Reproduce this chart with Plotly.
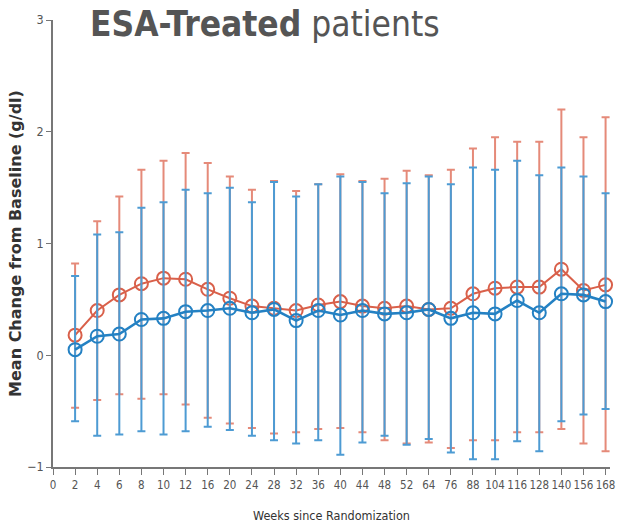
import plotly.graph_objects as go

# Week labels on the categorical x axis
weeks = ["0", "2", "4", "6", "8", "10", "12", "16", "20", "24", "28", "32", "36",
         "40", "44", "48", "52", "64", "76", "88", "104", "116", "128", "140", "156", "168"]
visit_weeks = weeks[1:]

# Red series: mean change and bar ends (g/dl)
red_mean = [0.18, 0.40, 0.54, 0.64, 0.69, 0.68, 0.59, 0.51, 0.44, 0.42, 0.40, 0.45,
            0.48, 0.44, 0.42, 0.44, 0.41, 0.42, 0.55, 0.60, 0.61, 0.61, 0.77, 0.58, 0.63]
red_upper = [0.82, 1.20, 1.42, 1.66, 1.74, 1.81, 1.72, 1.60, 1.48, 1.56, 1.47, 1.53,
             1.62, 1.56, 1.58, 1.65, 1.61, 1.66, 1.85, 1.95, 1.91, 1.91, 2.20, 1.95, 2.13]
red_lower = [-0.47, -0.40, -0.35, -0.39, -0.35, -0.44, -0.56, -0.61, -0.65, -0.70, -0.69, -0.66,
             -0.65, -0.69, -0.76, -0.79, -0.78, -0.83, -0.76, -0.76, -0.69, -0.69, -0.66, -0.79, -0.86]

# Blue series: mean change and bar ends (g/dl)
blue_mean = [0.05, 0.17, 0.19, 0.32, 0.33, 0.39, 0.40, 0.42, 0.38, 0.41, 0.31, 0.40,
             0.36, 0.40, 0.37, 0.38, 0.41, 0.33, 0.38, 0.37, 0.49, 0.38, 0.55, 0.54, 0.48]
blue_upper = [0.71, 1.08, 1.10, 1.32, 1.37, 1.48, 1.45, 1.50, 1.37, 1.55, 1.42, 1.53,
              1.60, 1.55, 1.45, 1.54, 1.60, 1.53, 1.68, 1.66, 1.74, 1.61, 1.68, 1.60, 1.45]
blue_lower = [-0.59, -0.72, -0.71, -0.68, -0.71, -0.68, -0.64, -0.67, -0.72, -0.76, -0.79, -0.76,
              -0.89, -0.78, -0.72, -0.80, -0.75, -0.87, -0.93, -0.93, -0.77, -0.86, -0.59, -0.53, -0.48]

RED = "#d9604a"
RED_BAR = "#e58a79"
BLUE = "#2481c3"
BLUE_BAR = "#4d9bd3"

NARROW = "DejaVu Sans Condensed, Liberation Sans Narrow, Arial Narrow, sans-serif"


def trace(mean, upper, lower, line_c, bar_c, lw):
    return go.Scatter(
        x=visit_weeks, y=mean, mode="lines+markers",
        line=dict(color=line_c, width=lw),
        marker=dict(symbol="circle-open", size=13, color=line_c, line=dict(width=2)),
        error_y=dict(type="data", symmetric=False,
                     array=[u - m for u, m in zip(upper, mean)],
                     arrayminus=[m - l for m, l in zip(mean, lower)],
                     color=bar_c, thickness=2, width=4),
        showlegend=False, cliponaxis=False,
    )


fig = go.Figure()
fig.add_trace(trace(red_mean, red_upper, red_lower, RED, RED_BAR, 2))
fig.add_trace(trace(blue_mean, blue_upper, blue_lower, BLUE, BLUE_BAR, 2.6))

fig.update_layout(
    width=618, height=526,
    margin=dict(l=53, r=3, t=20, b=59),
    paper_bgcolor="white", plot_bgcolor="white",
    xaxis=dict(type="category", categoryorder="array", categoryarray=weeks,
               range=[0, 25.2], showgrid=False, zeroline=False,
               showline=True, linecolor="#777", linewidth=1.5,
               ticks="outside", ticklen=6, tickcolor="#777", tickwidth=1.2,
               tickangle=0, tickfont=dict(family=NARROW, size=11.5, color="#555"),
               title=dict(text="Weeks since Randomization", standoff=21,
                          font=dict(family=NARROW, size=12.5, color="#333"))),
    yaxis=dict(range=[-1, 3], tickvals=[-1, 0, 1, 2, 3], showgrid=False, zeroline=False,
               showline=True, linecolor="#777", linewidth=1.5,
               ticks="outside", ticklen=5, tickcolor="#777", tickwidth=1.2,
               tickfont=dict(family=NARROW, size=12.5, color="#555"),
               title=dict(text="<b>Mean Change from Baseline (g/dl)</b>", standoff=2,
                          font=dict(family="DejaVu Sans, Verdana, sans-serif", size=16, color="#333"))),
    annotations=[dict(
        text="<b>ESA-Treated</b> patients", xref="paper", yref="paper",
        x=0.0, y=1.0, xanchor="left", yanchor="middle", xshift=35, yshift=-4,
        showarrow=False,
        font=dict(family=NARROW, size=35, color="#555"),
    )],
)

fig.write_html("out.html")
